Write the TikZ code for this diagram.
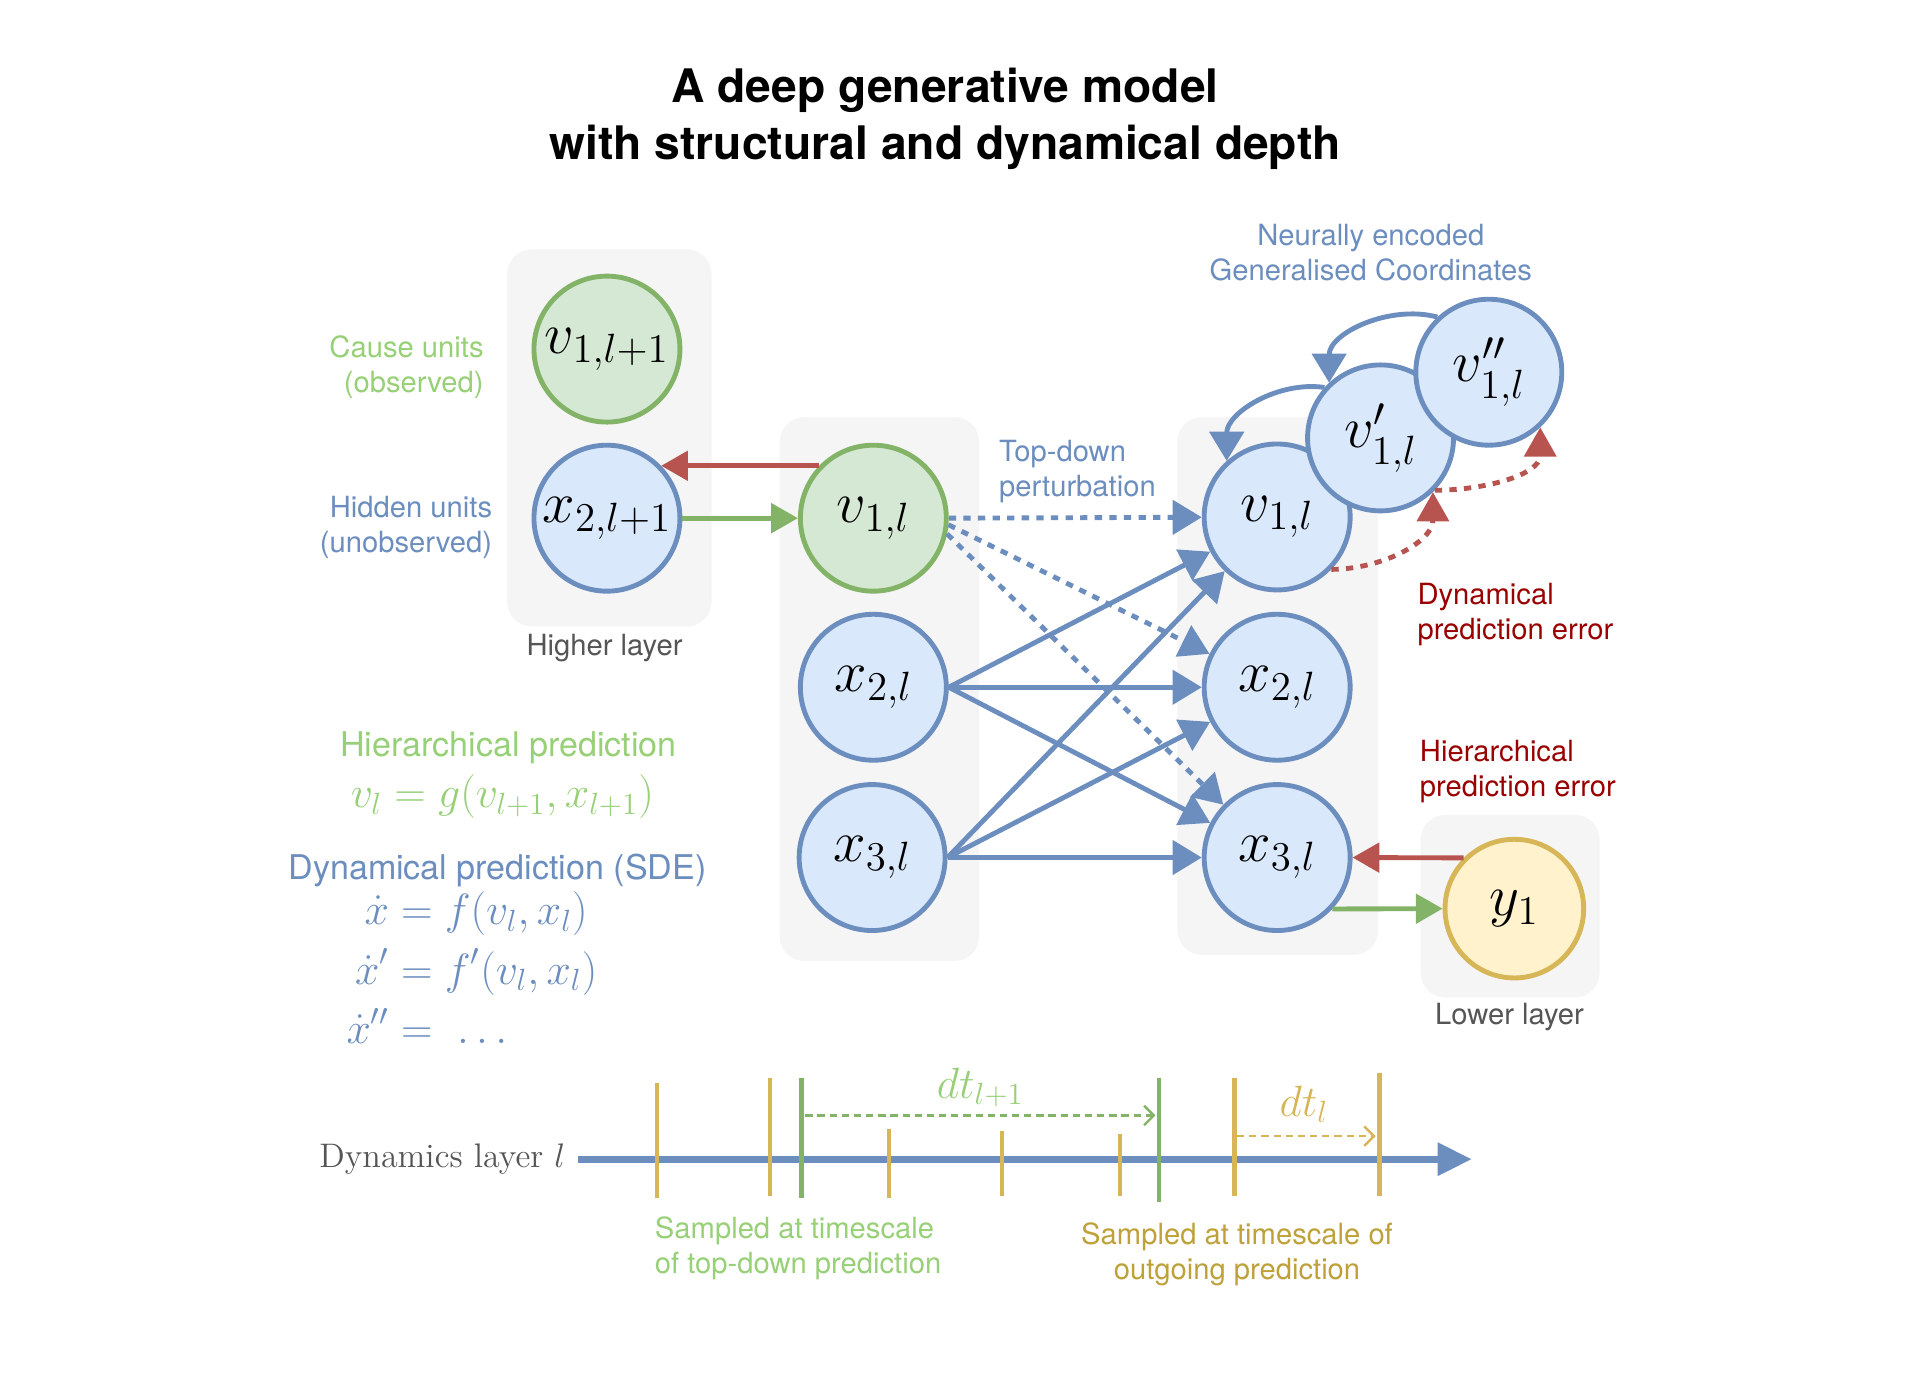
\documentclass[tikz,border=0pt]{standalone}
\usepackage{fix-cm}
\usepackage{amsmath}
\usepackage{fontspec}
\newfontfamily\helv{TeX Gyre Heros}
\usepackage{tikz}
\usetikzlibrary{arrows.meta,positioning}

\definecolor{blueFill}{HTML}{DAE8FC}
\definecolor{blueLine}{HTML}{6C8EBF}
\definecolor{greenFill}{HTML}{D5E8D4}
\definecolor{greenLine}{HTML}{82B366}
\definecolor{greenText}{HTML}{97D077}
\definecolor{yellowFill}{HTML}{FFF2CC}
\definecolor{yellowLine}{HTML}{D6B656}
\definecolor{goldText}{HTML}{BFA13A}
\definecolor{redLine}{HTML}{B85450}
\definecolor{darkRed}{HTML}{990000}
\definecolor{boxGray}{HTML}{F5F5F5}
\definecolor{grayText}{HTML}{555555}

\begin{document}
\begin{tikzpicture}[x=0.5pt, y=-0.5pt,
    unit/.style = {draw, circle, line width=2pt, minimum size=60pt, inner sep=0pt, font=\fontsize{24}{28}\selectfont},
    hidden/.style = {unit, draw=blueLine, fill=blueFill},
    cause/.style = {unit, draw=greenLine, fill=greenFill},
    obs/.style = {unit, draw=yellowLine, fill=yellowFill, minimum size=57pt},
    layer/.style = {fill=boxGray, rounded corners=10pt},
    lbl/.style = {font=\helv\fontsize{12}{14.4}\selectfont, inner sep=0pt},
    big/.style = {font=\helv\fontsize{14}{17}\selectfont, inner sep=0pt},
    eq/.style = {font=\fontsize{18}{20}\selectfont},
    edge/.style = {line width=2pt, draw=blueLine, -{Triangle[length=12pt,width=14pt]}},
    pert/.style = {edge, dash pattern=on 3pt off 3pt},
    err/.style = {line width=2pt, draw=redLine, dash pattern=on 3pt off 3pt, -{Triangle[length=12pt,width=13pt]}},
    up/.style = {line width=2pt, draw=redLine, -{Triangle[length=11pt,width=12pt]}},
    down/.style = {line width=2pt, draw=greenLine, -{Triangle[length=11pt,width=12pt]}},
    tick/.style = {line width=1.8pt},
    span/.style = {line width=1pt, dash pattern=on 3pt off 2pt, -{Straight Barb[length=4pt,width=8pt]}}]

    \useasboundingbox (0,0) rectangle (1567,1142.8);

    % title
    \node[font=\helv\bfseries\fontsize{19}{23.5}\selectfont, align=center] (title) at (777,98)
        {A deep generative model\\with structural and dynamical depth};

    % layer boxes
    \fill[layer] (417,205) rectangle (585,515);
    \fill[layer] (641,343) rectangle (805,790);
    \fill[layer] (968,343) rectangle (1133,785);
    \fill[layer] (1168,670) rectangle (1315,820);

    % higher layer
    \node[cause] (vh) at (499,287) {$v_{1,l+1}$};
    \node[hidden] (xh) at (499,426) {$x_{2,l+1}$};

    % layer l, outgoing
    \node[cause] (vm) at (718,426) {$v_{1,l}$};
    \node[hidden] (x2m) at (718,565) {$x_{2,l}$};
    \node[hidden] (x3m) at (717,705) {$x_{3,l}$};

    % layer l, incoming
    \node[hidden] (v1r) at (1050,425) {$v_{1,l}$};
    \node[hidden] (x2r) at (1050,565) {$x_{2,l}$};
    \node[hidden] (x3r) at (1050,705) {$x_{3,l}$};
    \node[hidden] (vp) at (1135,360) {$v'_{1,l}$};
    \node[hidden] (vpp) at (1224,306) {$v''_{1,l}$};

    % lower layer
    \node[obs] (y1) at (1245,747) {$y_1$};

    % labels
    \node[lbl, text=blueLine, align=center] (neur) at (1127,208) {Neurally encoded\\Generalised Coordinates};
    \node[lbl, text=greenText, align=right, anchor=east] (causelbl) at (398,302) {Cause units\\(observed)};
    \node[lbl, text=blueLine, align=right, anchor=east] (hidlbl) at (405,434) {Hidden units\\(unobserved)};
    \node[lbl, text=grayText] (higher) at (497,533) {Higher layer};
    \node[lbl, text=blueLine, align=left, anchor=west] (toplbl) at (821,388) {Top-down\\perturbation};
    \node[lbl, text=darkRed, align=left, anchor=west] (dynerr) at (1165,505) {Dynamical\\prediction error};
    \node[lbl, text=darkRed, align=left, anchor=west] (hiererr) at (1167,634) {Hierarchical\\prediction error};
    \node[lbl, text=grayText] (lower) at (1241,836) {Lower layer};

    % predictions
    \node[big, text=greenText] (hierpred) at (418,615) {Hierarchical prediction};
    \node[eq, text=greenText] (geq) at (413,655) {$v_l = g(v_{l+1}, x_{l+1})$};
    \node[big, text=blueLine] (dynpred) at (409,716) {Dynamical prediction (SDE)};
    \node[eq, text=blueLine] (feq) at (388,801)
        {$\begin{aligned}\dot{x} &= f(v_l, x_l)\\ \dot{x}' &= f'(v_l, x_l)\\ \dot{x}'' &= \;\ldots\end{aligned}$};

    % hierarchical links
    \draw[up] (vm.136) -- (xh.44);
    \draw[down] (xh) -- (vm);
    \draw[up] (y1.135) -- (x3r.east);
    \draw[down] (x3r.-43) -- (y1.west);

    % top-down perturbation
    \draw[pert] (vm.east) -- (v1r);
    \draw[pert] (vm.-5) -- (x2r);
    \draw[pert] (vm.-12) -- (x3r);

    % dynamics
    \foreach \src in {x2m,x3m}{
        \foreach \dst in {v1r,x2r,x3r}{
            \draw[edge] (\src.east) -- (\dst);
        }
    }

    % generalised coordinates
    \draw[edge] (vpp.133) to[out=165, in=90] (vp.133);
    \draw[edge] (vp.138) to[out=172, in=90] (v1r.132);
    \draw[err] (v1r.-44) to[out=0, in=-90] (vp.-46);
    \draw[err] (vp.-44) to[out=0, in=-90] (vpp.-47);

    % time line
    \node[font=\fontsize{14}{17}\selectfont, text=grayText, anchor=east, inner sep=0pt] (dynlayer) at (465,953) {Dynamics layer $l$};
    \coordinate (t0) at (475,953);
    \coordinate (t1) at (1210,953);
    \draw[line width=3pt, draw=blueLine, -{Triangle[length=14pt,width=13pt]}] (t0) -- (t1);
    \foreach \x/\a/\b in {540/890/985, 633/886/983, 731/928/985, 824/930/983, 921/932/983, 1015/886/983, 1134/882/983}
        \draw[tick, draw=yellowLine] (\x,\a) -- (\x,\b);
    \foreach \x/\a/\b in {659/886/985, 953/886/988}
        \draw[tick, draw=greenLine] (\x,\a) -- (\x,\b);

    \coordinate (g0) at (662,917);
    \coordinate (g1) at (950,917);
    \draw[span, draw=greenLine] (g0) -- (g1);
    \coordinate (o0) at (1017,934);
    \coordinate (o1) at (1131,934);
    \draw[span, draw=yellowLine] (o0) -- (o1);
    \node[eq, text=greenText] (dtup) at (806,894) {$dt_{l+1}$};
    \node[eq, text=yellowLine] (dtl) at (1072,908) {$dt_l$};

    \node[lbl, text=greenText, align=left, anchor=west] (samp1) at (538,1026) {Sampled at timescale\\of top-down prediction};
    \node[lbl, text=goldText, align=center] (samp2) at (1017,1031) {Sampled at timescale of\\outgoing prediction};
\end{tikzpicture}
\end{document}
